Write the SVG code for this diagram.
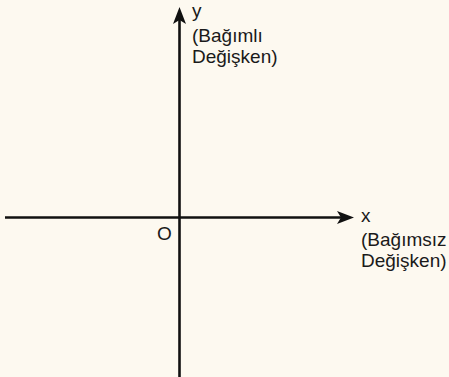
<svg xmlns="http://www.w3.org/2000/svg" width="449" height="377" viewBox="0 0 449 377">
<style>
.ax{stroke:#111;stroke-width:2.6;fill:none}
.ah{fill:#111}
.t{font-family:"Liberation Sans",Arial,sans-serif;font-size:19px;fill:#1a1a1a}
</style>
<rect width="449" height="377" fill="#fdf9f0"/>
<g id="connectors">
<line class="ax" x1="5" y1="217.5" x2="342" y2="217.5"/>
<path class="ah" d="M354,217.5 L337,211 L341,217.5 L337,224 Z"/>
<line class="ax" x1="179.5" y1="377" x2="179.5" y2="20"/>
<path class="ah" d="M179.5,7 L173,24 L179.5,20 L186,24 Z"/>
</g>
<g id="y-label">
<text class="t" x="192" y="17">y</text>
<text class="t" x="192" y="42">(Bağımlı</text>
<text class="t" x="192" y="63">Değişken)</text>
</g>
<g id="x-label">
<text class="t" x="361" y="222">x</text>
<text class="t" x="361" y="246">(Bağımsız</text>
<text class="t" x="361" y="267">Değişken)</text>
</g>
<g id="origin">
<text class="t" x="157" y="240">O</text>
</g>
</svg>
